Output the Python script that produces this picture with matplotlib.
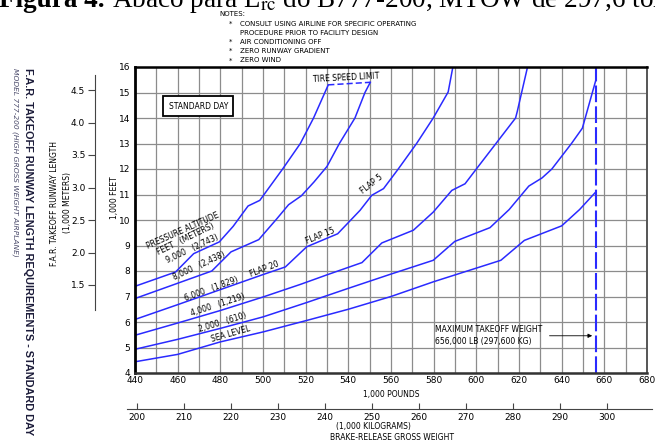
import matplotlib
matplotlib.use("Agg")
import matplotlib.pyplot as plt

# courbes de longueur de piste (1 000 ft) en fonction de la masse (1 000 lb)
sl_x = [440, 460, 480, 500, 520, 540, 560, 580, 592, 611.5, 622.5, 640, 648.4, 656]
sl_y = [4.44, 4.73, 5.22, 5.61, 6.05, 6.5, 7.0, 7.58, 7.9, 8.42, 9.2, 9.77, 10.41, 11.1]

ft2000_x = [440, 460, 480, 500, 520, 540, 560, 579.8, 589.9, 606.4, 615.4, 624.6, 630.8,
            635.4, 644.6, 649.7, 656]
ft2000_y = [4.93, 5.32, 5.75, 6.2, 6.75, 7.32, 7.88, 8.42, 9.16, 9.7, 10.41, 11.33, 11.65,
            12.0, 13.0, 13.6, 15.48]

ft4000_x = [440, 460, 480, 500, 517.7, 530, 546.4, 555.7, 570.5, 579.8, 588.5, 594.7,
            600, 609.2, 618.4, 619.2, 624]
ft4000_y = [5.48, 5.96, 6.45, 6.98, 7.48, 7.85, 8.33, 9.1, 9.6, 10.31, 11.16, 11.42,
            12.0, 13.0, 14.0, 14.26, 16.0]

ft6000_x = [440, 460, 480, 500, 510.5, 520.5, 535, 545.5, 551, 556.5, 563.4, 572, 579.8,
            586.8, 589]
ft6000_y = [6.10, 6.68, 7.27, 7.86, 8.16, 8.95, 9.46, 10.38, 10.97, 11.23, 12.0, 13.0, 14.0,
            15.02, 16.0]

ft8000_x = [440, 476, 485, 498, 506.5, 512, 518, 524, 530, 535.8, 543.1, 547.8, 550.3]
ft8000_y = [6.92, 8.0, 8.75, 9.23, 10.05, 10.6, 10.95, 11.5, 12.1, 13.0, 14.0, 15.0, 15.4]

ft9000_x = [440, 459, 467.5, 479.5, 486, 493, 498.5, 509.2, 517.5, 523.7, 530.6]
ft9000_y = [7.40, 7.96, 8.68, 9.14, 9.75, 10.55, 10.77, 12.0, 13.0, 14.0, 15.3]

mtow_lb = 656
lb_per_kg = 2.20462

x_ticks = list(range(440, 681, 20))
y_ticks = list(range(4, 17))
m_ticks = [1.5, 2.0, 2.5, 3.0, 3.5, 4.0, 4.5]
kg_ticks = list(range(200, 301, 10))

notes = ["CONSULT USING AIRLINE FOR SPECIFIC OPERATING",
         "PROCEDURE PRIOR TO FACILITY DESIGN",
         "AIR CONDITIONING OFF",
         "ZERO RUNWAY GRADIENT",
         "ZERO WIND"]

BLEU = "#2a2aff"
POLICE = ["Liberation Sans Narrow", "DejaVu Sans"]
W, H = 655, 441


def fx(px):
    return px / W


def fy(py):
    return 1 - py / H


fig = plt.figure(figsize=(W / 100, H / 100), dpi=100)
fig.patch.set_facecolor("white")

# axe principal
ax = fig.add_axes([fx(135), fy(373), (647 - 135) / W, (373 - 67) / H])
ax.set_xlim(440, 680)
ax.set_ylim(4, 16)
ax.set_xticks(x_ticks)
ax.set_xticks(list(range(440, 681, 10)), minor=True)
ax.set_yticks(y_ticks)
ax.set_xticklabels([str(v) for v in x_ticks], family=POLICE, fontsize=6.5)
ax.set_yticklabels([str(v) for v in y_ticks], family=POLICE, fontsize=6.5)
ax.tick_params(which="both", length=0, pad=2.5)
ax.tick_params(axis="y", pad=3.5)
ax.grid(True, which="both", color="#8c8c8c", lw=0.9)
ax.set_axisbelow(True)
ax.spines["left"].set_linewidth(2)
ax.spines["top"].set_linewidth(1.8)
ax.spines["bottom"].set_linewidth(1.8)
ax.spines["bottom"].set_color("#333333")
ax.spines["right"].set_linewidth(1.4)
ax.spines["right"].set_color("#555555")

for cx, cy in [(sl_x, sl_y), (ft2000_x, ft2000_y), (ft4000_x, ft4000_y),
               (ft6000_x, ft6000_y), (ft8000_x, ft8000_y), (ft9000_x, ft9000_y)]:
    ax.plot(cx, cy, color=BLEU, lw=1.1, clip_on=True)

# limite de vitesse des pneus
ax.plot([ft9000_x[-1], ft8000_x[-1]], [ft9000_y[-1], ft8000_y[-1]],
        color=BLEU, lw=1.1, dashes=(4, 2))
ax.axvline(mtow_lb, color=BLEU, lw=1.5, dashes=(8, 2))

ax.annotate("", xy=(mtow_lb - 0.4, 5.46), xytext=(633, 5.46),
            arrowprops=dict(arrowstyle="-|>", lw=0.6, color="black", mutation_scale=6))
ax.text(580.5, 5.48, "MAXIMUM TAKEOFF WEIGHT\n656,000 LB (297,600 KG)", family=POLICE,
        fontsize=5.5, ha="left", va="center", linespacing=1.4)

ax.text(469.7, 14.47, "STANDARD DAY", family=POLICE, fontsize=5.5, ha="center", va="center",
        bbox=dict(boxstyle="square,pad=0.7", fc="white", ec="black", lw=1.3))

etiquettes = [
    ("PRESSURE ALTITUDE", 462.3, 9.59, 24),
    ("FEET   (METERS)", 463.8, 9.23, 26),
    ("9,000   (2,743)", 466.9, 8.88, 25),
    ("8,000   (2,438)", 469.9, 8.22, 25),
    ("6,000   (1,829)", 476, 7.31, 20),
    ("FLAP 20", 500.5, 8.09, 21),
    ("4,000   (1,219)", 478.8, 6.65, 18),
    ("2,000   (610)", 480.9, 5.97, 17),
    ("SEA LEVEL", 484.7, 5.54, 16),
    ("FLAP 15", 527, 9.36, 22),
    ("FLAP 5", 551, 11.39, 38),
    ("TIRE SPEED LIMIT", 539, 15.57, 3),
]
for txt, x, y, rot in etiquettes:
    ax.text(x, y, txt, family=POLICE, fontsize=5.5, ha="center", va="center",
            rotation=rot, rotation_mode="anchor")

# échelle en mètres
axm = fig.add_axes([fx(95), fy(310), 0.001, (310 - 75) / H])
axm.set_ylim(1.5 - 25 / 65, 4.5 + 15 / 65)
axm.set_yticks(m_ticks)
axm.set_yticklabels([f"{v:.1f}" for v in m_ticks], family=POLICE, fontsize=6.5)
axm.set_xticks([])
axm.patch.set_visible(False)
for s in ["top", "right", "bottom"]:
    axm.spines[s].set_visible(False)
axm.spines["left"].set_color("#444444")
axm.tick_params(axis="y", direction="out", length=5, width=0.8, color="#444444", pad=2)

# échelle en kilogrammes
px_lb = (647 - 135) / 240
lb_lo = 440 - (135 - 127) / px_lb
lb_hi = 680 + (652 - 647) / px_lb
axk = fig.add_axes([fx(127), fy(409), (652 - 127) / W, 0.001])
axk.set_xlim(lb_lo / lb_per_kg, lb_hi / lb_per_kg)
axk.set_xticks(kg_ticks)
axk.set_xticklabels([str(v) for v in kg_ticks], family=POLICE, fontsize=6.5)
axk.set_yticks([])
axk.patch.set_visible(False)
for s in ["top", "right", "left"]:
    axk.spines[s].set_visible(False)
axk.spines["bottom"].set_color("#444444")
axk.tick_params(axis="x", direction="in", length=4, width=0.8, color="#444444", pad=3)

# textes
fig.text(fx(391.7), fy(395), "1,000 POUNDS", family=POLICE, fontsize=5.5, ha="center", va="center")
fig.text(fx(373), fy(427), "(1,000 KILOGRAMS)", family=POLICE, fontsize=5.5, ha="center", va="center")
fig.text(fx(391.7), fy(437.5), "BRAKE-RELEASE GROSS WEIGHT", family=POLICE, fontsize=5.5,
         ha="center", va="center")
fig.text(fx(115), fy(198), "1,000 FEET", family=POLICE, fontsize=5.5, rotation=90,
         ha="center", va="center")
fig.text(fx(61), fy(203), "F.A.R. TAKEOFF RUNWAY LENGTH\n(1,000 METERS)", family=POLICE,
         fontsize=5.5, rotation=90, ha="center", va="center", multialignment="center",
         linespacing=1.7)

fig.text(fx(28), fy(68), "F.A.R. TAKEOFF RUNWAY LENGTH REQUIREMENTS - STANDARD DAY",
         family="Liberation Sans", fontweight="bold", fontsize=7.8, rotation=270,
         ha="center", va="top", color="#1c1c3a")
fig.text(fx(15), fy(68), "MODEL 777-200 (HIGH GROSS WEIGHT AIRPLANE)",
         family=POLICE, style="italic", fontsize=5.4, rotation=270,
         ha="center", va="top", color="#4a4a6a")

fig.text(fx(219), fy(11.5), "NOTES:", family=POLICE, fontsize=5.0, va="top")
lignes_py = [21, 30, 39, 48, 57.5]
puces = [True, False, True, True, True]
for txt, py, p in zip(notes, lignes_py, puces):
    if p:
        fig.text(fx(229), fy(py), "*", family=POLICE, fontsize=5.0, va="top")
    fig.text(fx(240), fy(py), txt, family=POLICE, fontsize=5.0, va="top")

# légende de la figure (coupée en haut)
plt.rcParams["mathtext.fontset"] = "stix"
fig.text(fx(-1), fy(7), "Figura 4.", family="Liberation Serif", fontweight="bold",
         fontsize=19.5, va="baseline")
fig.text(fx(112), fy(7), r"Ábaco para L$_{\mathrm{rc}}$ do B777-200, MTOW de 297,6 ton",
         family="Liberation Serif", fontsize=19.5, va="baseline")

fig.savefig("out.png", dpi=100)
